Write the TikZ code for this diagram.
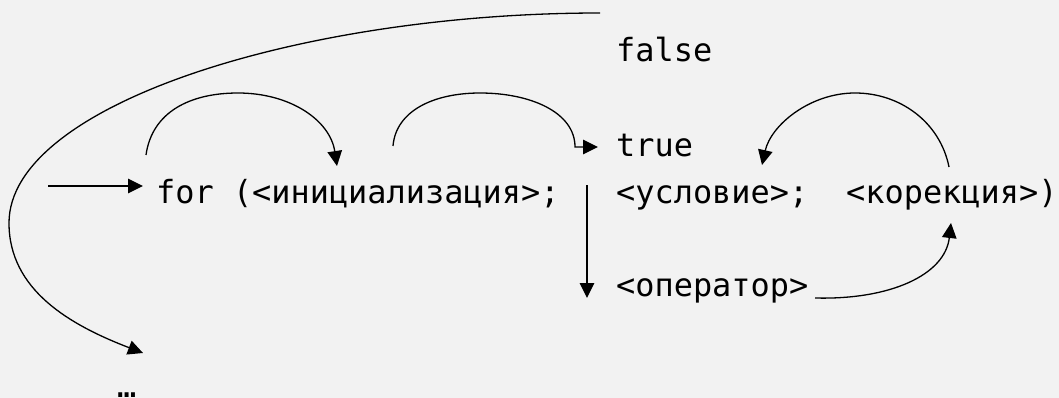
\documentclass[tikz,border=0pt]{standalone}
\usepackage{fontspec}
\newfontfamily\codefont{DejaVu Sans Mono}
\usetikzlibrary{arrows.meta}
\definecolor{bgc}{HTML}{F2F2F2}
\begin{document}
\begin{tikzpicture}[x=1pt,y=-1pt,
  code/.style={font=\codefont\fontsize{31.9}{38}\selectfont, inner sep=0pt, anchor=base west},
  conn/.style={line width=1.3pt, -{Triangle[length=15pt,width=14.5pt]}}]
\fill[bgc] (0,0) rectangle (1059,398);
\useasboundingbox (0,0) rectangle (1059,398);
\clip (0,0) rectangle (1059,398);
% texts
\node[code] (false) at (616,62) {false};
\node[code] (true) at (616,157) {true};
\node[code] (for) at (156,204) {for (<инициализация>;};
\node[code] (cond) at (616,204) {<условие>;};
\node[code] (corr) at (846,204) {<корекция>)};
\node[code] (op) at (616,296) {<оператор>};
\node[code] (dots) at (117,397.5) {…};
% connector ends
\coordinate (s0) at (48,186);
\coordinate (e0) at (143,186);
\coordinate (a1s) at (146,155);
\coordinate (a1e) at (337,166);
\coordinate (a2s) at (393,146);
\coordinate (a2e) at (598,147);
\coordinate (a3s) at (949,167);
\coordinate (a3e) at (762,165);
\coordinate (o1) at (815,298);
\coordinate (o2) at (951,223);
\coordinate (v1) at (587,185);
\coordinate (v2) at (587,298);
\coordinate (b1) at (600,13);
\coordinate (b2) at (143,353);
% connectors
\draw[conn] (s0) -- (e0);
\draw[conn] (a1s) .. controls (152,112) and (190,93) .. (238,93) .. controls (290,93) and (330,120) .. (a1e);
\draw[conn] (a2s) .. controls (396,110) and (435,93) .. (480,93) .. controls (530,93) and (575,112) .. (575,147) -- (a2e);
\draw[conn] (a3s) .. controls (940,122) and (900,93) .. (855,93) .. controls (810,93) and (771,125) .. (a3e);
\draw[conn] (o1) .. controls (890,300) and (945,275) .. (o2);
\draw[conn] (v1) -- (v2);
\draw[conn] (b1) .. controls (300,13) and (9,105) .. (9,223) .. controls (9,290) and (70,325) .. (b2);
\end{tikzpicture}
\end{document}
